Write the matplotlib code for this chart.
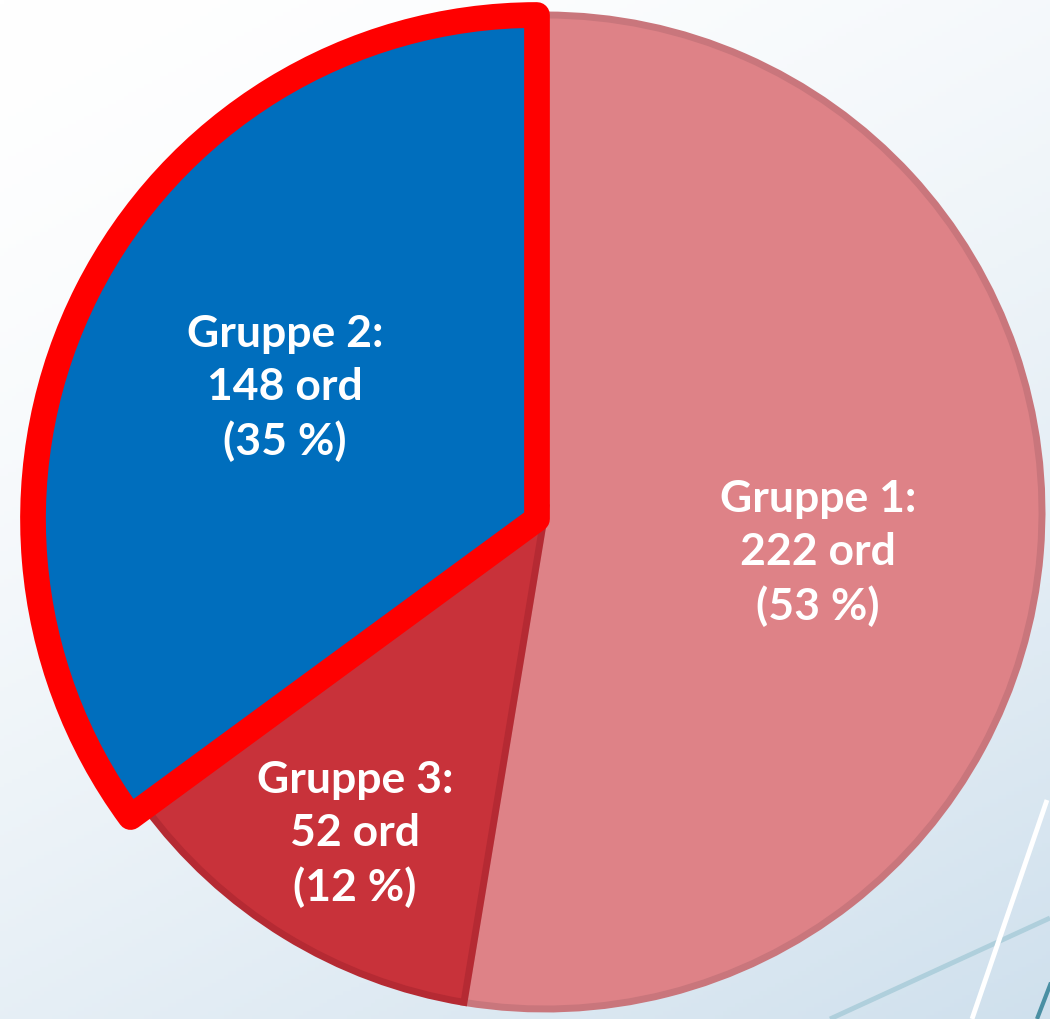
import numpy as np
import matplotlib.pyplot as plt
from matplotlib import patheffects as pe

# ---- data (drawing order: clockwise from 12 o'clock) ----
groups = ["Gruppe 1", "Gruppe 3", "Gruppe 2"]
counts = [222, 52, 148]
percents = [53, 12, 35]
unit = "ord"

face_colors = ["#DE8287", "#C8323A", "#006EBD"]
edge_colors = ["#C9767C", "#B52A33", "#FF0000"]

W, H = 1050, 1019
fig = plt.figure(figsize=(W / 100, H / 100), dpi=100)
ax = fig.add_axes([0, 0, 1, 1])
ax.set_xlim(0, W)
ax.set_ylim(0, H)
ax.axis("off")

# background gradient (white top-left -> light blue bottom-right)
yy, xx = np.mgrid[0:H:4, 0:W:4]
t = (0.35 * xx / W + 0.65 * yy / H) ** 1.5
c0 = np.array([1.0, 1.0, 1.0])
c1 = np.array([0xCF, 0xE0, 0xED]) / 255
img = c0[None, None, :] * (1 - t[..., None]) + c1[None, None, :] * t[..., None]
ax.imshow(img, extent=[0, W, 0, H], origin="upper", aspect="auto", zorder=0)

# decorative lines bottom-right
ax.plot([830, 1050], [H - 1019, H - 918], color="#AFCFDC", lw=3.5, zorder=1,
        solid_capstyle="butt")
ax.plot([1047, 972], [H - 800, H - 1019], color="white", lw=3.5, zorder=1,
        solid_capstyle="butt")
ax.plot([1052, 1037], [H - 980, H - 1019], color="#4A8FA3", lw=3, zorder=1,
        solid_capstyle="butt")

cx, cy, R = 545, H - 512, 497
wedges, _ = ax.pie(counts, startangle=90, counterclock=False,
                   center=(cx, cy), radius=R,
                   colors=face_colors, frame=True)
ax.set_xlim(0, W)
ax.set_ylim(0, H)
ax.set_aspect("equal")
ax.axis("off")

for i, w in enumerate(wedges):
    w.set_edgecolor(edge_colors[i])
    w.set_zorder(2 + i)
    if i == 2:
        # highlighted slice: slightly pulled out and enlarged, thick red border
        w.set_center((537, H - 519))
        w.set_radius(504)
        w.set_linewidth(18.5)
        w.set_joinstyle("round")
        w.set_path_effects([pe.SimplePatchShadow(offset=(2, -2), alpha=0.35,
                                                 shadow_rgbFace="#333333"),
                            pe.Normal()])
    else:
        w.set_linewidth(5)

# labels (pixel positions of text blocks)
label_pos = [(818, 553), (355, 834), (285, 388)]
for i, g in enumerate(groups):
    x, y = label_pos[i]
    ax.text(x, H - y, f"{g}:\n{counts[i]} {unit}\n({percents[i]} %)",
            ha="center", va="center", color="white", fontsize=32,
            fontweight="bold", family="Lato", linespacing=1.38, zorder=10)

fig.savefig("out.png", dpi=100)
